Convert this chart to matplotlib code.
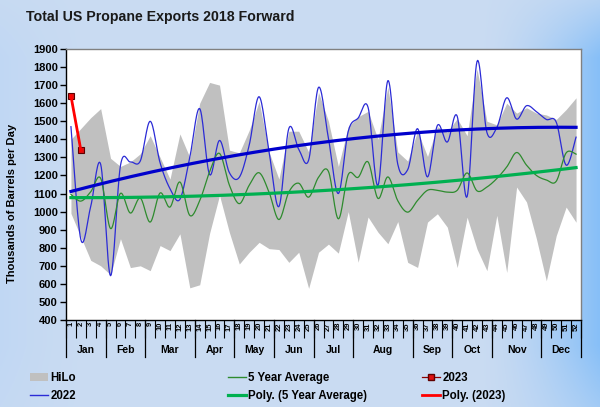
import numpy as np
import matplotlib
matplotlib.use("Agg")
import matplotlib.pyplot as plt
from matplotlib.lines import Line2D
from matplotlib.patches import Patch
import matplotlib.transforms as mtransforms

plt.rcParams['font.family'] = ['Liberation Sans', 'DejaVu Sans']
plt.rcParams['font.weight'] = 'bold'

# ---------------- data ----------------
weeks = list(range(1, 53))
week_labels = [str(w) for w in weeks]
months = ['Jan', 'Feb', 'Mar', 'Apr', 'May', 'Jun', 'Jul', 'Aug', 'Sep', 'Oct', 'Nov', 'Dec']
month_bounds = [0, 4, 8, 13, 17, 21, 25, 29, 35, 39, 43, 48, 52]

hilo_high = [1400, 1460, 1520, 1570, 1295, 1250, 1275, 1320, 1420, 1300,
             1180, 1430, 1300, 1600, 1715, 1700, 1340, 1325, 1450, 1610,
             1330, 1180, 1445, 1445, 1330, 1660, 1500, 1250, 1470, 1525,
             1555, 1400, 1690, 1330, 1280, 1445, 1305, 1470, 1440, 1515,
             1420, 1790, 1500, 1480, 1600, 1545, 1575, 1545, 1535, 1510,
             1565, 1630]
hilo_low = [990, 860, 730, 700, 650, 850, 690, 700, 673, 812,
            784, 877, 578, 595, 880, 1090, 884, 710, 775, 830,
            795, 790, 719, 775, 575, 775, 820, 770, 1000, 720,
            970, 886, 822, 945, 719, 691, 942, 988, 914, 690,
            969, 793, 673, 979, 663, 1136, 1053, 849, 617, 867,
            1025, 941]
y2022 = [1470, 845, 1030, 1262, 645, 1255, 1275, 1280, 1500, 1270,
         1127, 1068, 1300, 1570, 1205, 1394, 1215, 1190, 1368, 1636,
         1331, 1028, 1460, 1345, 1285, 1688, 1405, 1100, 1445, 1518,
         1577, 1145, 1725, 1262, 1232, 1459, 1192, 1477, 1385, 1528,
         1083, 1831, 1438, 1465, 1630, 1512, 1586, 1553, 1510, 1495,
         1257, 1412]
avg5 = [1095, 1058, 1110, 1184, 906, 1101, 992, 1075, 942, 1103,
        1025, 1164, 979, 1060, 1220, 1322, 1146, 1044, 1146, 1215,
        1108, 956, 1108, 1157, 1080, 1190, 1222, 960, 1205, 1190,
        1275, 1073, 1192, 1060, 997, 1062, 1118, 1118, 1108, 1118,
        1214, 1115, 1136, 1183, 1247, 1327, 1257, 1200, 1175, 1168,
        1325, 1318]
weeks2023 = [1, 2]
y2023 = [1640, 1340]


def excel_smooth(x, y, n=16):
    P = np.column_stack([x, y]).astype(float)
    N = len(P)
    out = [P[0]]
    t = np.linspace(0, 1, n + 1)[1:, None]
    for i in range(N - 1):
        p0 = P[i - 1] if i > 0 else P[i]
        p1, p2 = P[i], P[i + 1]
        p3 = P[i + 2] if i + 2 < N else P[i + 1]
        c1 = p1 + (p2 - p0) / 6.0
        c2 = p2 - (p3 - p1) / 6.0
        seg = (1 - t) ** 3 * p1 + 3 * (1 - t) ** 2 * t * c1 + 3 * (1 - t) * t ** 2 * c2 + t ** 3 * p2
        out.extend(seg)
    out = np.array(out)
    return out[:, 0], out[:, 1]


W, H = 600, 407
fig = plt.figure(figsize=(6.0, 4.07), dpi=100)

# background gradient
bg = fig.add_axes([0, 0, 1, 1], zorder=-10)
bg.set_axis_off()
gx = np.linspace(0, 1, 400)[None, :]
gy = np.linspace(0, 1, 300)[:, None]
c_light = np.array([0.79, 0.86, 0.95])
c_left = np.array([0.72, 0.83, 0.96])
c_right = np.array([0.53, 0.75, 0.97])
wr = np.clip((gx - 0.80) / 0.20, 0, 1) ** 1.5
wl = np.clip((0.15 - gx) / 0.15, 0, 1) ** 1.5 * 0.5
img = (c_light[None, None, :] * (1 - wr[..., None] - wl[..., None])
       + c_right[None, None, :] * wr[..., None]
       + c_left[None, None, :] * wl[..., None])
img = np.broadcast_to(img, (300, 400, 3))
fade = (np.clip((0.14 - gy) / 0.14, 0, 1)[..., None] * 0.7
        + np.clip((gy - 0.85) / 0.15, 0, 1)[..., None] * 0.4)
img = img * (1 - fade) + c_light[None, None, :] * fade
bg.imshow(img, extent=[0, 1, 0, 1], aspect='auto', origin='upper')

left, right, top, bottom = 66, 581, 49, 320
ax = fig.add_axes([left / W, 1 - bottom / H, (right - left) / W, (bottom - top) / H])
ax.set_facecolor('white')

ax.fill_between(weeks, hilo_low, hilo_high, color='#c0c0c0', lw=0, zorder=1)

xs, ys = excel_smooth(weeks, y2022)
ax.plot(xs, ys, color='#2b2bd6', lw=0.9, zorder=3)
xs, ys = excel_smooth(weeks, avg5)
ax.plot(xs, ys, color='#2e8b2e', lw=0.9, zorder=3)

xw = np.array(weeks, dtype=float)
xf = np.linspace(1, 52, 200)
pb = np.polyfit(xw, y2022, 2)
ax.plot(xf, np.polyval(pb, xf), color='#0000cc', lw=2.3, zorder=4)
pg = np.polyfit(xw, avg5, 2)
ax.plot(xf, np.polyval(pg, xf), color='#00b050', lw=2.3, zorder=4)

ax.plot(weeks2023, y2023, color='#8b0000', lw=0.9, marker='s', ms=4.5,
        mfc='#e01010', mec='#600000', mew=0.8, zorder=5)
pr = np.polyfit(weeks2023, y2023, 1)
xr = np.linspace(1, 2, 20)
ax.plot(xr, np.polyval(pr, xr), color='#ff0000', lw=2.0, zorder=5)

ax.set_xlim(0.5, 52.5)
ax.set_ylim(400, 1900)
ax.set_yticks(range(400, 2000, 100))
ax.tick_params(axis='y', direction='out', length=4, width=1, labelsize=8, pad=2, colors='black')
for lab in ax.get_yticklabels():
    lab.set_fontweight('bold')

# category boundaries as major ticks, labels as minor ticks
ax.set_xticks(np.arange(0.5, 53.0, 1.0))
ax.set_xticklabels([])
ax.tick_params(axis='x', which='major', direction='out', length=13, width=0.8, color='black')
ax.set_xticks(weeks, minor=True)
ax.set_xticklabels(week_labels, minor=True, rotation=90, fontsize=5.4, fontweight='bold')
ax.tick_params(axis='x', which='minor', length=0, pad=1.5)

for s in ['top', 'right']:
    ax.spines[s].set_color('#808080')
    ax.spines[s].set_linewidth(1.0)
for s in ['left', 'bottom']:
    ax.spines[s].set_color('black')
    ax.spines[s].set_linewidth(1.0)

trans = mtransforms.blended_transform_factory(ax.transData, ax.transAxes)
ph = (bottom - top)
for b in month_bounds:
    ax.plot([b + 0.5, b + 0.5], [0, -37 / ph], color='black', lw=0.9, transform=trans, clip_on=False)
for i, m in enumerate(months):
    c = (month_bounds[i] + month_bounds[i + 1]) / 2 + 0.5
    ax.text(c, -30 / ph, m, transform=trans, ha='center', va='center', fontsize=7.5, fontweight='bold')

fig.text(26 / W, 1 - 17 / H, 'Total US Propane Exports 2018 Forward', ha='left', va='center',
         fontsize=10.2, fontweight='bold', color='#1a1a1a')
fig.text(12 / W, 1 - 203 / H, 'Thousands of Barrels per Day', rotation=90, ha='center', va='center',
         fontsize=8, fontweight='bold')

# legends
leg_kw = dict(frameon=False, fontsize=8.3, handlelength=1.6, handletextpad=0.15,
              labelspacing=0.55, borderpad=0, borderaxespad=0, loc='upper left')
h1 = [Patch(facecolor='#c0c0c0', edgecolor='none'), Line2D([], [], color='#2b2bd6', lw=1)]
fig.legend(h1, ['HiLo', '2022'], bbox_to_anchor=(30 / W, 1 - 372 / H), **leg_kw)
h2 = [Line2D([], [], color='#2e8b2e', lw=1), Line2D([], [], color='#00b050', lw=2.3)]
fig.legend(h2, ['5 Year Average', 'Poly. (5 Year Average)'], bbox_to_anchor=(228 / W, 1 - 372 / H), **leg_kw)
h3 = [Line2D([], [], color='#8b0000', lw=0.9, marker='s', ms=4, mfc='#e01010', mec='#600000'),
      Line2D([], [], color='#ff0000', lw=2.0)]
fig.legend(h3, ['2023', 'Poly. (2023)'], bbox_to_anchor=(422 / W, 1 - 372 / H), **leg_kw)

fig.savefig('out.png', dpi=100)
